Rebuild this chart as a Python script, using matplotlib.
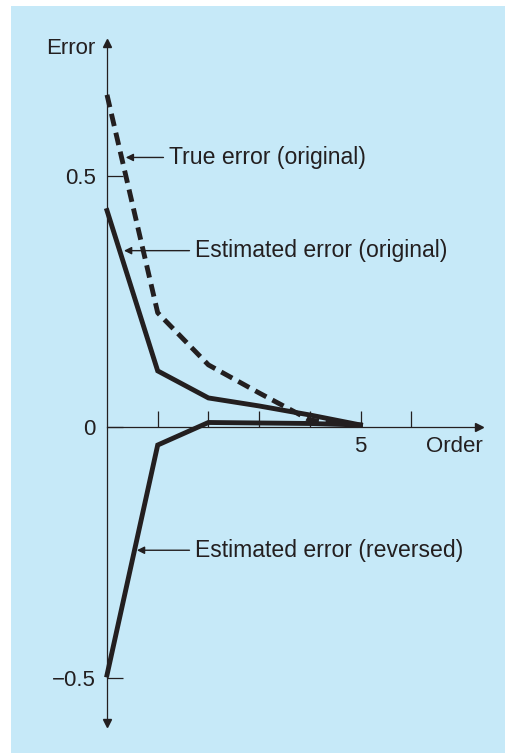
" error of successive series orders, original vs reversed summation "
import numpy as np
import matplotlib.pyplot as plt

plt.rcParams.update({'font.family': ['Liberation Sans', 'DejaVu Sans'],
                     'font.size': 16})

ink = "#231f20"
panel = "#c6e9f8"

order = [0, 1, 2, 3, 4, 5]
true_orig = [0.663, 0.228, 0.124, 0.068, 0.014, 0.002]
est_orig = [0.432, 0.112, 0.058, 0.042, 0.024, 0.004]
est_rev = [-0.495, -0.036, 0.009, 0.008, 0.007, 0.004]

xticks = [1, 2, 3, 4, 5, 6]
xticklabels = ["", "", "", "", "5", ""]
yticks = [-0.5, 0, 0.5]
yticklabels = ["\u22120.5", "0", "0.5"]

fig = plt.figure(figsize=(5.05, 7.53), dpi=100)
fig.patch.set_facecolor("white")
# light blue panel behind the plot
fig.patches.append(plt.Rectangle((11/505, 0), 1, 1 - 6/753,
                                 transform=fig.transFigure,
                                 facecolor=panel, edgecolor="none", zorder=-5))

ax = fig.add_axes([107/505, 30/753, 372/505, 680/753])
ax.set_facecolor("none")
ax.set_xlim(0, 372/50.7)
ax.set_ylim(-296/501, 384/501)

for side in ["top", "right"]:
    ax.spines[side].set_visible(False)
ax.spines["bottom"].set_position(("data", 0))
for side in ["left", "bottom"]:
    ax.spines[side].set_color(ink)
    ax.spines[side].set_linewidth(0.9)

# arrow heads on the axes
ax.plot(1, 0, ">", color=ink, ms=6, transform=ax.get_yaxis_transform(),
        clip_on=False)
ax.plot(0, 1, "^", color=ink, ms=6, transform=ax.get_xaxis_transform(),
        clip_on=False)
ax.plot(0, 0, "v", color=ink, ms=6, transform=ax.get_xaxis_transform(),
        clip_on=False)

ax.set_xticks(xticks)
ax.set_xticklabels(xticklabels)
ax.set_yticks(yticks)
ax.set_yticklabels(yticklabels)
ax.tick_params(direction="in", length=11.5, width=0.9, color=ink,
               labelcolor=ink, labelsize=16)
ax.tick_params(axis="x", pad=6.5)
ax.tick_params(axis="y", pad=8)

ax.set_xlabel("Order", color=ink, ha="left", va="center")
ax.xaxis.set_label_coords(319/372, 276/680)
ax.set_ylabel("Error", color=ink, rotation=0, ha="right", va="center")
ax.yaxis.set_label_coords(-12/372, 675/680)

ax.plot(order, true_orig, color=ink, lw=3.5, ls=(0, (2.6, 1.4)),
        solid_joinstyle="miter", clip_on=False)
ax.plot(order, est_orig, color=ink, lw=3.5, clip_on=False,
        solid_joinstyle="miter")
ax.plot(order, est_rev, color=ink, lw=3.5, clip_on=False,
        solid_joinstyle="miter")

arrow = dict(arrowstyle="-|>", color=ink, lw=1.0, mutation_scale=11,
             shrinkB=0)
ax.annotate("True error (original)", xy=(0.37, 0.538), xytext=(1.223, 0.538),
            ha="left", va="center", color=ink, fontsize=16.6,
            arrowprops=arrow)
ax.annotate("Estimated error (original)", xy=(0.335, 0.352),
            xytext=(1.736, 0.352), ha="left", va="center", color=ink,
            fontsize=16.6, arrowprops=arrow)
ax.annotate("Estimated error (reversed)", xy=(0.59, -0.246),
            xytext=(1.736, -0.246), ha="left", va="center", color=ink,
            fontsize=16.6, arrowprops=arrow)

fig.savefig("out.png", dpi=100)
